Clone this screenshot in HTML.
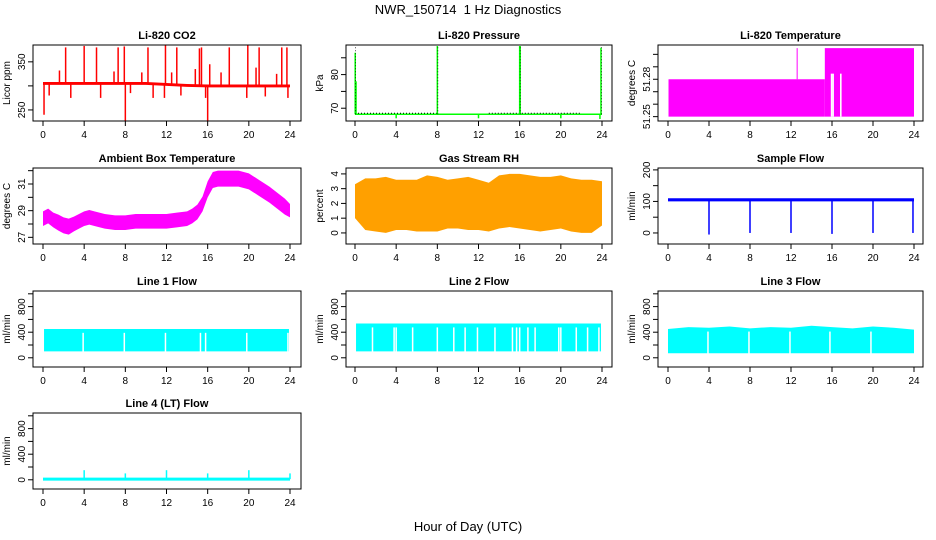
<!DOCTYPE html>
<html><head><meta charset="utf-8">
<style>
body{margin:0;background:#fff;}
svg{display:block;font-family:"Liberation Sans",Arial,sans-serif;}
</style></head>
<body>
<svg id="c" width="936" height="540" viewBox="0 0 936 540">
<text x="468" y="14" text-anchor="middle" font-size="13" xml:space="preserve">NWR_150714  1 Hz Diagnostics</text>
<text x="468" y="531" text-anchor="middle" font-size="13">Hour of Day (UTC)</text>
</svg>
<script>
// ---- data ----
const hourTicks=[0,4,8,12,16,20,24];
// CO2
const co2Hours=[0,2,4,6,8,10,12,14,16,18,20,22,24];
const co2Base=[305,305,305,305,305,305,303,301,300,300,300,300,300];
const co2SpikeTimes=[2.2,4.0,5.2,7.3,7.9,10.2,11.9,13.0,15.2,15.4,18.1,19.9,21.0,23.2,23.7,1.6,6.9,9.6,12.5,14.8,16.2,17.3,20.7,22.7,0.1,8.0,16.0,0.6,2.7,5.6,8.5,10.7,11.8,13.4,15.8,19.8,21.6,23.8];
const co2SpikeVals=[380,383,380,380,382,380,384,380,378,380,380,384,380,380,380,332,330,328,328,335,345,328,338,325,240,228,226,280,275,275,285,275,275,280,275,275,278,275];
// Pressure
const presBase=68.2;
const presSpikeTimes=[0.02,0.1,8.0,16.0,16.05,23.9,4.0,12.0,20.0,23.8];
const presSpikeVals=[86.5,78,88.5,88.5,88.5,88,67,67,67,66.8];
// Li-820 temperature
const ltStepTimes=[0.05,15.3,24];
const ltStepVals=[51.28,51.305];
const ltGapTimes=[15.95,16.1,16.85];
const ltSpikeTimes=[12.6];
const ltSpikeVals=[51.305];
// Ambient
const ambHours=[0,0.5,1,1.5,2,2.5,3,3.5,4,4.5,5,6,7,8,9,10,11,12,13,14,14.5,15,15.5,16,16.5,17,18,19,20,21,22,23,23.5,24];
const ambMean=[28.4,28.6,28.3,28.1,27.9,27.8,28.0,28.2,28.4,28.5,28.4,28.2,28.1,28.1,28.2,28.2,28.2,28.2,28.3,28.4,28.6,28.9,29.5,30.6,31.3,31.4,31.4,31.4,31.2,30.7,30.2,29.6,29.3,29.0];
const ambHalf=[0.55,0.55,0.55,0.6,0.6,0.6,0.55,0.55,0.55,0.55,0.55,0.55,0.55,0.55,0.55,0.55,0.55,0.55,0.55,0.55,0.55,0.55,0.55,0.6,0.6,0.6,0.6,0.6,0.6,0.6,0.6,0.6,0.6,0.5];
// RH
const rhHours=[0,1,2,3,4,5,6,7,8,9,10,11,12,13,14,15,16,17,18,19,20,21,22,23,24];
const rhUpper=[3.3,3.7,3.7,3.8,3.6,3.6,3.6,3.9,3.8,3.6,3.7,3.8,3.6,3.4,3.9,4.0,4.0,3.9,3.8,3.8,3.9,3.7,3.6,3.6,3.5];
const rhLower=[1.0,0.2,0.1,0.0,0.2,0.2,0.1,0.1,0.1,0.3,0.3,0.2,0.2,0.1,0.3,0.4,0.3,0.2,0.1,0.2,0.3,0.1,0.0,0.0,0.5];
// Sample flow
const sfBase=105;
const sfDipTimes=[4,8,12,16,20,23.9];
const sfDipVals=[-5,0,0,-3,0,0];
// Line flows
const l1Lower=100, l1Upper=450;
const l1GapTimes=[3.9,7.9,11.9,15.3,15.8,19.8,23.8];
const l2Lower=100, l2Upper=535;
const l2GapTimes=[1.7,3.8,4.0,5.6,8.0,9.6,10.7,11.9,13.6,15.3,15.7,16.0,16.8,17.5,19.8,20.0,21.5,22.6,23.7];
const l3Lower=70, l3Upper=470;
const l3GapTimes=[3.9,7.9,11.9,15.8,19.8];
const l3TopHours=[0,2,4,6,8,10,12,14,16,18,20,22,24];
const l3TopVals=[450,480,470,490,460,480,470,500,480,460,490,470,440];
const l4Base=10;
const l4SpikeTimes=[4,8,12,16,20,24];
const l4SpikeVals=[150,100,150,100,150,100];

// ---- layout ----
const svg=document.getElementById('c');
const NS='http://www.w3.org/2000/svg';
const cols=[{l:33,r:301,x0:43,x1:290},{l:346,r:612,x0:355,x1:602},{l:658,r:923,x0:668,x1:914}];
const rowTops=[45,168,291,413];const H=76;
function mk(tag,attrs,parent){const e=document.createElementNS(NS,tag);for(const k in attrs)e.setAttribute(k,attrs[k]);(parent||svg).appendChild(e);return e;}
function panel(ci,ri,title,ymin,ymax,yticks,ylabels,ylab,name){
  const c=cols[ci],top=rowTops[ri],bot=top+H;
  const g=mk('g',{});
  
  
  const X=t=>c.x0+(c.x1-c.x0)*t/24;
  const Y=v=>bot-(v-ymin)/(ymax-ymin)*H;
  const plot=mk('g',{},g);
  const clip='clip'+ci+ri;
  const cp=mk('clipPath',{id:clip},g);mk('rect',{x:c.l,y:top,width:c.r-c.l,height:H},cp);
  plot.setAttribute('clip-path','url(#'+clip+')');
  const box=mk('rect',{x:c.l,y:top,width:c.r-c.l,height:H,fill:'none',stroke:'#000','stroke-width':1},g);
  
  
  const tt=mk('text',{x:(c.l+c.r)/2,y:top-6,'text-anchor':'middle','font-size':11,'font-weight':'bold'},g);tt.textContent=title;
  
  
  hourTicks.forEach(h=>{mk('line',{x1:X(h),x2:X(h),y1:bot,y2:bot+5,stroke:'#000'},g);
    const t=mk('text',{x:X(h),y:bot+17,'text-anchor':'middle','font-size':10},g);t.textContent=h;
    
    });
  yticks.forEach(v=>{mk('line',{x1:c.l-5,x2:c.l,y1:Y(v),y2:Y(v),stroke:'#000'},g);});
  ylabels.forEach(v=>{const t=mk('text',{x:0,y:0,'text-anchor':'middle','font-size':10,transform:`translate(${c.l-8},${Y(v)}) rotate(-90)`},g);t.textContent=v;
    
    });
  const yl=mk('text',{x:0,y:0,'text-anchor':'middle','font-size':10,transform:`translate(${c.l-23},${(top+bot)/2}) rotate(-90)`},g);yl.textContent=ylab;
  
  
  return {X,Y,plot};
}
function vline(p,t,v0,v1,col,w){return mk('line',{x1:p.X(t),x2:p.X(t),y1:p.Y(v0),y2:p.Y(v1),stroke:col,'stroke-width':w||1.5},p.plot);}
function band(p,xs,lo,hi,fill){let d='M'+xs.map((t,i)=>p.X(t)+','+p.Y(hi[i])).join('L');for(let i=xs.length-1;i>=0;i--)d+='L'+p.X(xs[i])+','+p.Y(lo[i]);return mk('path',{d:d+'Z',fill:fill},p.plot);}

// CO2
let p=panel(0,0,'Li-820 CO2',227,385,[250,300,350],[250,350],'Licor ppm','co2');
co2SpikeTimes.forEach((t,i)=>{const b=co2Base[Math.min(co2Base.length-1,Math.round(t/2))];const e=vline(p,t,b,co2SpikeVals[i],'#ff0000',1.5);
  
  });
let e=band(p,co2Hours,co2Base.map(v=>v-3),co2Base.map(v=>v+3),'#ff0000');



// Pressure
p=panel(1,0,'Li-820 Pressure',66.2,88.8,[70,75,80,85],[70,80],'kPa','pressure');
e=mk('line',{x1:p.X(0),x2:p.X(24),y1:p.Y(presBase),y2:p.Y(presBase),stroke:'#00ff00','stroke-width':1.5},p.plot);


mk('line',{x1:p.X(0),x2:p.X(8),y1:p.Y(presBase)-1,y2:p.Y(presBase)-1,stroke:'#000','stroke-width':1,'stroke-dasharray':'1 2'},p.plot);
mk('line',{x1:p.X(13),x2:p.X(22),y1:p.Y(presBase)-1,y2:p.Y(presBase)-1,stroke:'#000','stroke-width':1,'stroke-dasharray':'1 2'},p.plot);
presSpikeTimes.forEach((t,i)=>{const e=vline(p,t,presBase,presSpikeVals[i],'#00ff00',1.5);
  
  });
[0,8,16,23.9].forEach(t=>mk('line',{x1:p.X(t)+0.5,x2:p.X(t)+0.5,y1:p.Y(presBase),y2:p.Y(88.5),stroke:'#000','stroke-width':0.7,'stroke-dasharray':'1 2'},p.plot));

// Li-820 temp
p=panel(2,0,'Li-820 Temperature',51.2465,51.3075,[51.25,51.26,51.27,51.28,51.29,51.30],[51.25,51.28],'degrees C','licor-temp');
for(let i=0;i<ltStepVals.length;i++){const r=mk('rect',{x:p.X(ltStepTimes[i]),y:p.Y(ltStepVals[i]),width:p.X(ltStepTimes[i+1])-p.X(ltStepTimes[i]),height:p.Y(51.25)-p.Y(ltStepVals[i]),fill:'#ff00ff'},p.plot);
  
  }
ltGapTimes.forEach(t=>{const r=mk('rect',{x:p.X(t)-0.7,y:p.Y(51.2845),width:1.6,height:p.Y(51.25)-p.Y(51.2845),fill:'#fff'},p.plot);
  
  });
ltSpikeTimes.forEach((t,i)=>{const e=vline(p,t,51.28,ltSpikeVals[i],'#ff00ff',1);
  
  });

// Ambient
p=panel(0,1,'Ambient Box Temperature',26.5,32.2,[27,28,29,30,31,32],[27,29,31],'degrees C','ambient');
e=band(p,ambHours,ambMean.map((v,i)=>v-ambHalf[i]),ambMean.map((v,i)=>v+ambHalf[i]),'#ff00ff');



// RH
p=panel(1,1,'Gas Stream RH',-0.75,4.4,[0,1,2,3,4],[0,1,2,3,4],'percent','rh');
e=band(p,rhHours,rhLower,rhUpper,'#ffa000');



// Sample flow
p=panel(2,1,'Sample Flow',-35,206,[0,50,100,150,200],[0,100,200],'ml/min','sample-flow');
e=band(p,[0,24],[sfBase-5,sfBase-5],[sfBase+5,sfBase+5],'#0000ff');


sfDipTimes.forEach((t,i)=>{const e=vline(p,t,sfBase,sfDipVals[i],'#0000ff',1.5);
  
  });

// Line flows
function flowPanel(ci,ri,title,lo,hi,gaps,name,topHours,topVals){
  const p=panel(ci,ri,title,-144,1044,[0,200,400,600,800,1000],[0,400,800],'ml/min',name);
  const xs=topHours||[0.1,23.9];
  const his=topVals||[hi,hi];
  const e=band(p,xs,xs.map(()=>lo),his,'#00ffff');
  
  
  gaps.forEach(t=>{const g=vline(p,t,lo-5,hi-60,'#fff',1.5);
    
    });
  return p;
}
flowPanel(0,2,'Line 1 Flow',l1Lower,l1Upper,l1GapTimes,'line1-flow');
flowPanel(1,2,'Line 2 Flow',l2Lower,l2Upper,l2GapTimes,'line2-flow');
flowPanel(2,2,'Line 3 Flow',l3Lower,l3Upper,l3GapTimes,'line3-flow',l3TopHours,l3TopVals);
p=panel(0,3,'Line 4 (LT) Flow',-144,1044,[0,200,400,600,800,1000],[0,400,800],'ml/min','line4-flow');
e=mk('line',{x1:p.X(0),x2:p.X(24),y1:p.Y(l4Base),y2:p.Y(l4Base),stroke:'#00ffff','stroke-width':3},p.plot);


l4SpikeTimes.forEach((t,i)=>{const e=vline(p,t,l4Base,l4SpikeVals[i],'#00ffff',1.5);
  
  });
</script>
</body></html>
